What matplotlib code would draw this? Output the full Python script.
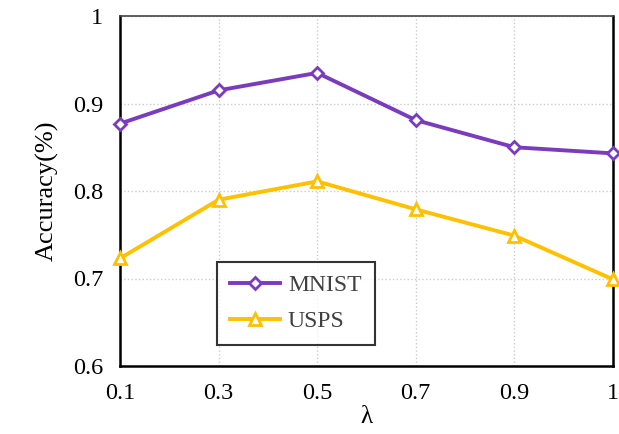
import numpy as np
import matplotlib
matplotlib.use('Agg')
import matplotlib.pyplot as plt

# data
lambdas = ['0.1', '0.3', '0.5', '0.7', '0.9', '1']
mnist = [0.877, 0.915, 0.935, 0.881, 0.850, 0.843]
usps = [0.723, 0.790, 0.811, 0.779, 0.749, 0.699]
yticks = [0.6, 0.7, 0.8, 0.9, 1.0]
yticklabels = ['0.6', '0.7', '0.8', '0.9', '1']

plt.rcParams['font.family'] = ['Liberation Serif', 'DejaVu Serif']

fig = plt.figure(figsize=(6.19, 4.34), dpi=100)
ax = fig.add_axes([120/619, 1-366/434, 493/619, 350/434])

x = np.arange(len(lambdas))
ax.plot(x, mnist, color='#7B3BBE', lw=2.8, marker='D', ms=6.5,
        mfc='white', mec='#7B3BBE', mew=2, label='MNIST', clip_on=False, zorder=3)
ax.plot(x, usps, color='#FFC000', lw=2.8, marker='^', ms=8,
        mfc='white', mec='#FFC000', mew=2, label='USPS', clip_on=False, zorder=3)

ax.set_xlim(0, len(lambdas)-1)
ax.set_ylim(0.6, 1.0)
ax.set_xticks(x)
ax.set_xticklabels(lambdas)
ax.set_yticks(yticks)
ax.set_yticklabels(yticklabels)
ax.tick_params(length=0, labelsize=17.5, pad=12)
ax.tick_params(axis='x', pad=12)
ax.grid(True, color='#cccccc', ls=':', lw=1)
ax.set_axisbelow(True)

for s in ['left', 'bottom', 'right']:
    ax.spines[s].set_linewidth(1.8)
    ax.spines[s].set_color('black')
ax.spines['top'].set_linewidth(1.2)
ax.spines['top'].set_color('#444444')

ax.set_xlabel('λ', fontsize=18, labelpad=2)
ax.set_ylabel('Accuracy(%)', fontsize=19, labelpad=10)

leg = ax.legend(loc='lower left', bbox_to_anchor=(0.197, 0.06),
                fontsize=17, frameon=True, fancybox=False,
                handlelength=2.1, borderpad=0.55, labelspacing=0.6,
                handletextpad=0.35, borderaxespad=0)
leg.get_frame().set_edgecolor('black')
leg.get_frame().set_linewidth(1.5)
for t in leg.get_texts():
    t.set_color('#404040')

plt.savefig('out.png', dpi=100)
